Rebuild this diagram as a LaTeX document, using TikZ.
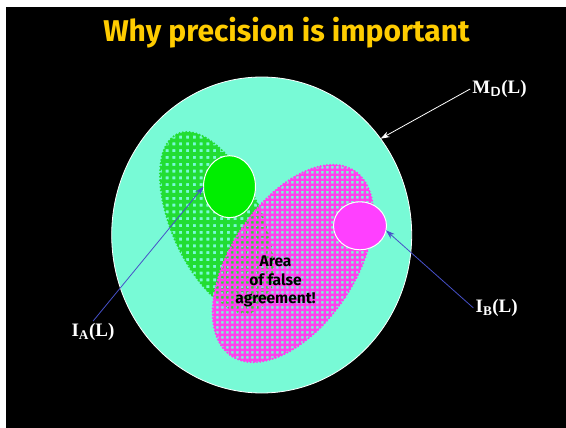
\documentclass[tikz,border=0pt]{standalone}
\usepackage{fontspec}
\setmainfont{Liberation Serif}
\newfontfamily\comicfont{Fira Sans}
\usetikzlibrary{shapes.geometric, arrows.meta}
\definecolor{aqua}{RGB}{120,250,214}
\definecolor{fieldA}{RGB}{34,221,51}
\definecolor{fieldB}{RGB}{255,64,238}
\definecolor{coreA}{RGB}{0,238,0}
\definecolor{coreB}{RGB}{255,64,255}
\definecolor{titleyellow}{RGB}{255,204,0}
\definecolor{pointer}{RGB}{70,80,200}

\begin{document}
\begin{tikzpicture}[x=1pt, y=-1pt,
    lab/.style={text=white, font=\bfseries\fontsize{19}{19}\selectfont, inner sep=2pt},
    blob/.style={draw, ellipse, inner sep=0pt, outer sep=0pt},
    ptr/.style={-{Stealth[length=9pt, width=6pt]}, line width=0.8pt}]
  \useasboundingbox (0,0) rectangle (566,428);
  \fill[black] (6,7) rectangle (566,428);
  \node[text=titleyellow, font=\comicfont\bfseries\fontsize{30}{30}\selectfont] (title) at (286.5,33) {Why precision is important};
  % the whole domain
  \node[blob, fill=aqua, draw=white, line width=0.8pt, minimum width=300pt, minimum height=316pt] (md) at (261.7,235) {};
  % dotted field of A
  \begin{scope}
    \clip[rotate around={23.5:(216.5,222.5)}] (216.5,222.5) ellipse [x radius=45, y radius=96.7];
    \fill[fieldA, even odd rule] (150,120) rectangle (290,330)
      \foreach \x in {152,158.8,...,290} {\foreach \y in {122,128.8,...,330} {(\x,\y) rectangle ++(3,3)}};
  \end{scope}
  \draw[fieldA, line width=2.4pt, dash pattern=on 0pt off 3.4pt, line cap=round, rotate around={23.5:(216.5,222.5)}] (216.5,222.5) ellipse [x radius=45, y radius=96.7];
  % dotted field of B
  \begin{scope}
    \clip[rotate around={-33.6:(293,263.5)}] (293,263.5) ellipse [x radius=62, y radius=111];
    \fill[fieldB, even odd rule] (205,155) rectangle (380,370)
      \foreach \x in {206,211,...,380} {\foreach \y in {156,161,...,370} {(\x,\y) rectangle ++(2.7,2.7)}};
  \end{scope}
  \draw[fieldB, line width=2.4pt, dash pattern=on 0pt off 3.2pt, line cap=round, rotate around={-33.6:(293,263.5)}] (293,263.5) ellipse [x radius=62, y radius=111];
  % cores
  \node[blob, fill=coreA, draw=white, line width=1pt, minimum width=52pt, minimum height=62pt] (acore) at (229.5,186.7) {};
  \node[blob, fill=coreB, draw=white, line width=1pt, minimum width=53pt, minimum height=48pt] (bcore) at (360,225.8) {};
  \node[font=\comicfont\bfseries\fontsize{15.5}{18.5}\selectfont, align=center] (false) at (275.5,281.5) {Area\\of false\\agreement!};
  % labels
  \node[lab] (mdlab) at (499.5,89) {M\textsubscript{\sffamily D}(L)};
  \node[lab] (ialab) at (93,332) {I\textsubscript{A}(L)};
  \node[lab] (iblab) at (496.7,308) {I\textsubscript{B}(L)};
  \draw[ptr, white] (mdlab.west) -- (md.39);
  \draw[ptr, pointer] (ialab.north) -- (acore.west);
  \draw[ptr, pointer] (iblab.west) -- (bcore.-10);
\end{tikzpicture}
\end{document}
